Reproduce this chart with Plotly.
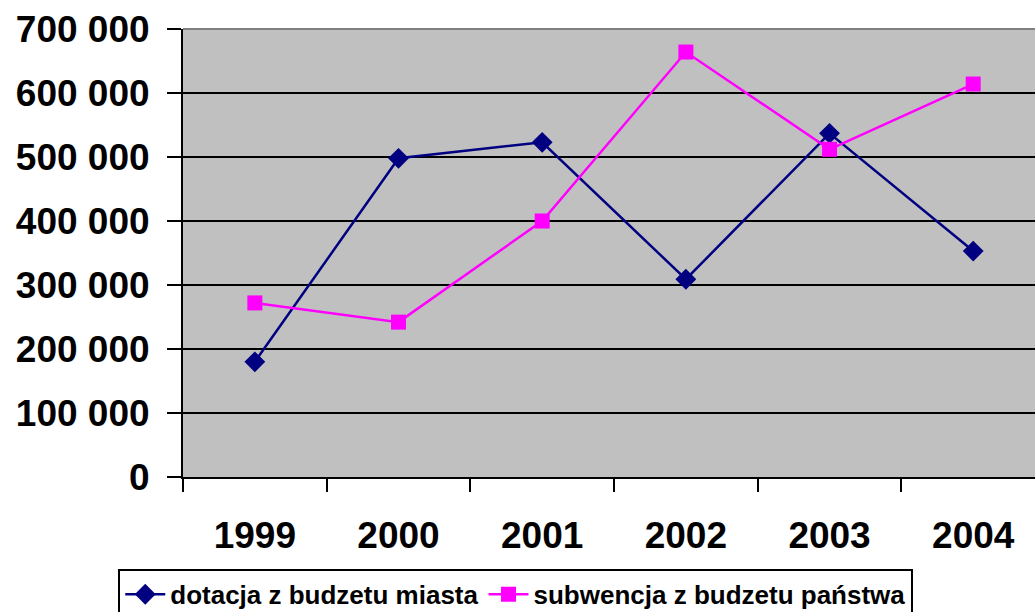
import plotly.graph_objects as go

years = ["1999", "2000", "2001", "2002", "2003", "2004"]
dotacja = [180000, 498000, 523000, 309000, 537000, 353000]
subwencja = [272000, 242000, 400000, 664000, 512000, 614000]
y_ticks = [0, 100000, 200000, 300000, 400000, 500000, 600000, 700000]
y_labels = ["0", "100 000", "200 000", "300 000", "400 000", "500 000", "600 000", "700 000"]

FONT = "Liberation Sans, Arial, sans-serif"

fig = go.Figure()
fig.add_trace(go.Scatter(
    x=years, y=dotacja, name="dotacja z budzetu miasta", mode="lines+markers",
    line=dict(color="#000080", width=2.5),
    marker=dict(symbol="diamond", size=16, color="#000080"),
))
fig.add_trace(go.Scatter(
    x=years, y=subwencja, name="subwencja z budzetu państwa", mode="lines+markers",
    line=dict(color="#FF00FF", width=2.5),
    marker=dict(symbol="square", size=15, color="#FF00FF"),
))

fig.update_layout(
    width=1035, height=612,
    margin=dict(l=183, r=0, t=29, b=135, autoexpand=False),
    paper_bgcolor="white",
    plot_bgcolor="#C0C0C0",
    font=dict(family=FONT, color="black"),
    showlegend=True,
    legend=dict(
        orientation="h", x=-0.076, xanchor="left", y=-0.205, yanchor="top",
        bgcolor="white", bordercolor="black", borderwidth=2,
        font=dict(family=FONT, size=26, weight="bold", color="black"),
        itemwidth=40, tracegroupgap=0,
    ),
)
fig.update_xaxes(
    type="category", range=[-0.5, 5.43], tickson="boundaries", automargin=False,
    showgrid=False, showline=True, linecolor="black", linewidth=2,
    ticks="outside", ticklen=13, tickwidth=2, tickcolor="black",
    tickfont=dict(family=FONT, size=37, weight="bold", color="black"),
    ticklabelstandoff=25,
)
fig.update_yaxes(
    range=[0, 700000], tickvals=y_ticks, ticktext=y_labels, automargin=False,
    showgrid=True, gridcolor="black", gridwidth=2,
    zeroline=False, showline=True, linecolor="black", linewidth=2,
    ticks="outside", ticklen=14, tickwidth=2, tickcolor="black",
    tickfont=dict(family=FONT, size=37, weight="bold", color="black"),
    ticklabelstandoff=10,
)
fig.add_shape(type="line", xref="paper", yref="paper", x0=0, x1=1, y0=1, y1=1,
              line=dict(color="#808080", width=2))

fig.write_html(
    "out.html",
    config={"displayModeBar": False},
    post_script="document.body.style.margin='0';document.body.style.overflow='hidden';",
)
